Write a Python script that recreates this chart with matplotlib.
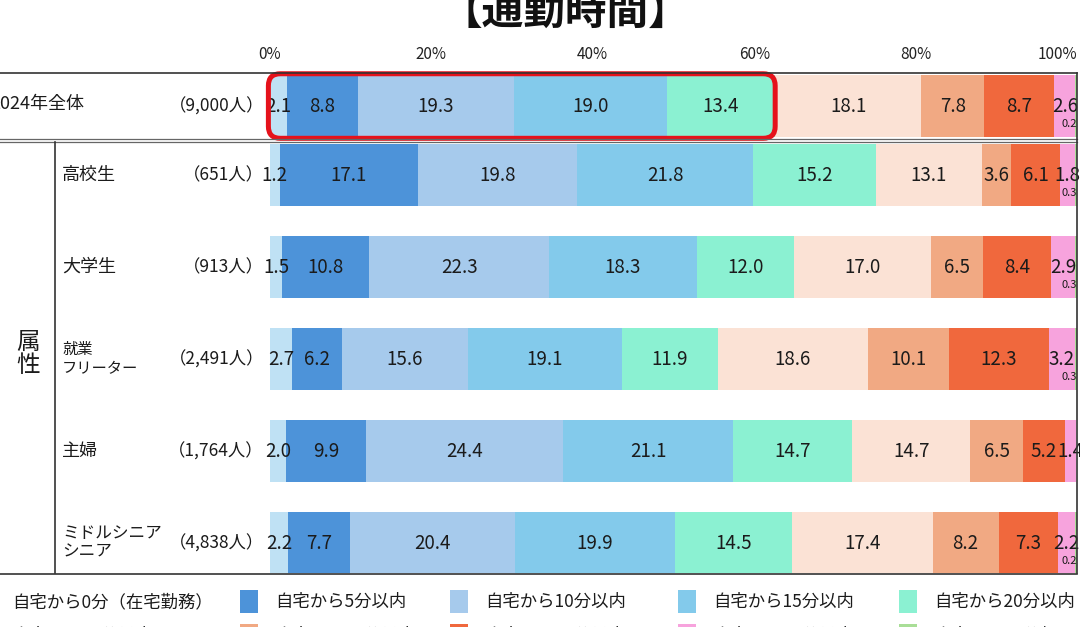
import numpy as np
import matplotlib
matplotlib.use("Agg")
import matplotlib.pyplot as plt
from matplotlib.lines import Line2D
from matplotlib.patches import Rectangle, FancyBboxPatch

plt.rcParams['font.family'] = ['Noto Sans CJK JP', 'DejaVu Sans']

# ---- data ----
title = '【通勤時間】'
row_labels = ['2024年全体', '高校生', '大学生', '就業\nフリーター', '主婦', 'ミドルシニア\nシニア']
row_counts = ['（9,000人）', '（651人）', '（913人）', '（2,491人）', '（1,764人）', '（4,838人）']
group_label = '属\n性'
categories = ['自宅から0分（在宅勤務）', '自宅から5分以内', '自宅から10分以内',
              '自宅から15分以内', '自宅から20分以内', '自宅から30分以内',
              '自宅から45分以内', '自宅から60分以内', '自宅から90分以内',
              '自宅から90分超']
colors = ['#BFE1F4', '#4D93D9', '#A6CAEC', '#83CAEB', '#8BF1D2',
          '#FBE2D5', '#F1A983', '#F0683D', '#F7A3DD', '#A9DE97']

v_total = [2.1, 8.8, 19.3, 19.0, 13.4, 18.1, 7.8, 8.7, 2.6, 0.2]
v_high = [1.2, 17.1, 19.8, 21.8, 15.2, 13.1, 3.6, 6.1, 1.8, 0.3]
v_univ = [1.5, 10.8, 22.3, 18.3, 12.0, 17.0, 6.5, 8.4, 2.9, 0.3]
v_work = [2.7, 6.2, 15.6, 19.1, 11.9, 18.6, 10.1, 12.3, 3.2, 0.3]
v_wife = [2.0, 9.9, 24.4, 21.1, 14.7, 14.7, 6.5, 5.2, 1.4, 0.0]
v_senior = [2.2, 7.7, 20.4, 19.9, 14.5, 17.4, 8.2, 7.3, 2.2, 0.2]
ticks = [0, 20, 40, 60, 80, 100]

values = np.array([v_total, v_high, v_univ, v_work, v_wife, v_senior])
highlight_n = 5  # first five categories boxed in the total row

W, H = 1080, 627
fig = plt.figure(figsize=(W / 100, H / 100), dpi=100)
fig.patch.set_facecolor('white')

def fx(px):
    return px / W

def fy(py):
    return 1 - py / H

ax_l, ax_r, ax_t, ax_b = 270, 1077, 73, 573
ax = fig.add_axes([fx(ax_l), fy(ax_b), fx(ax_r - ax_l), (ax_b - ax_t) / H])

ypos = np.array([0, 0.75, 1.75, 2.75, 3.75, 4.75])
bar_h = 0.68
ax.set_xlim(0, 100)
ax.set_ylim(5.076, -0.359)
for s in ax.spines.values():
    s.set_visible(False)

txt = '#1b1b1b'
left = np.zeros(len(ypos))
for j in range(values.shape[1]):
    ax.barh(ypos, values[:, j], left=left, height=bar_h, color=colors[j], linewidth=0)
    for i in range(len(ypos)):
        v = values[i, j]
        if v >= 1:
            ax.text(left[i] + v / 2, ypos[i], f'{v:.1f}', ha='center', va='center',
                    fontsize=13.5, color=txt)
        elif v > 0:
            ax.text(100, ypos[i] + 0.2, f'{v:.1f}', ha='right', va='center',
                    fontsize=8, color=txt, clip_on=False)
    left += values[:, j]

# x axis on top
ax.xaxis.tick_top()
ax.set_xticks(ticks)
ax.set_xticklabels([f'{t}%' for t in ticks])
ax.tick_params(axis='x', length=0, pad=7, labelsize=11, colors='#222222')
ax.get_xticklabels()[-1].set_ha('right')
ax.set_yticks([])

# red highlight box round first five segments of the total row
px_x = (ax_r - ax_l) / 100
px_y = (ax_b - ax_t) / (5.076 + 0.359)
asp = px_x / px_y
x1 = values[0, :highlight_n].sum()
hb = bar_h / 2 + 1 / px_y
box = FancyBboxPatch((-0.2, ypos[0] - hb), x1 + 0.2, 2 * hb,
                     boxstyle=f'round,pad=0,rounding_size={12 / px_x}',
                     mutation_aspect=asp, fill=False, edgecolor='#E5121B',
                     linewidth=3.6, clip_on=False, zorder=5)
ax.add_patch(box)

# row labels
ytr = ax.get_yaxis_transform()
def axx(px):
    return (px - ax_l) / (ax_r - ax_l)

for i, (lab, cnt) in enumerate(zip(row_labels, row_counts)):
    if i == 0:
        ax.text(axx(-10), ypos[i] - 0.02, lab, transform=ytr, ha='left', va='center',
                fontsize=13, color=txt, clip_on=False)
    else:
        fs = 11 if lab.startswith('就業') else (12 if '\n' in lab else 13)
        ax.text(axx(62), ypos[i], lab, transform=ytr, ha='left', va='center',
                fontsize=fs, color=txt, clip_on=False, linespacing=1.15)
    ax.text(axx(264), ypos[i], cnt, transform=ytr, ha='right', va='center',
            fontsize=12.5, color=txt, clip_on=False)

fig.text(fx(28), fy(354), group_label, ha='center', va='center', fontsize=17,
         color=txt, linespacing=1.05)

# table lines
lc = '#333333'
def hline(py, x0, x1, lw=1.2, c=lc):
    fig.add_artist(Line2D([fx(x0), fx(x1)], [fy(py), fy(py)], color=c, lw=lw))

def vline(px, y0, y1, lw=1.2, c=lc):
    fig.add_artist(Line2D([fx(px), fx(px)], [fy(y0), fy(y1)], color=c, lw=lw))

hline(73, 0, 1077)
hline(139, 0, 1077, lw=0.9, c='#666666')
hline(142, 0, 1077, lw=0.9, c='#666666')
hline(573.5, 0, 1077)
vline(55, 142, 573)
vline(1076.5, 73, 573)

# title
fig.text(fx(565), fy(12), title, ha='center', va='center', fontsize=30,
         fontweight='bold', color='#111111')

# legend (second row falls mostly below the frame)
patch_x = [-23, 240, 450, 678, 899]
row_y = [601, 635]
for k, (cat, col) in enumerate(zip(categories, colors)):
    r, c = divmod(k, 5)
    fig.patches.append(Rectangle((fx(patch_x[c]), fy(row_y[r] + 11.5)), fx(18), 23 / H,
                                 transform=fig.transFigure, facecolor=col, linewidth=0))
    fig.text(fx(patch_x[c] + 35), fy(row_y[r] + 1), cat, ha='left', va='center',
             fontsize=12.5, color=txt)

fig.savefig('out.png', dpi=100, facecolor='white')
